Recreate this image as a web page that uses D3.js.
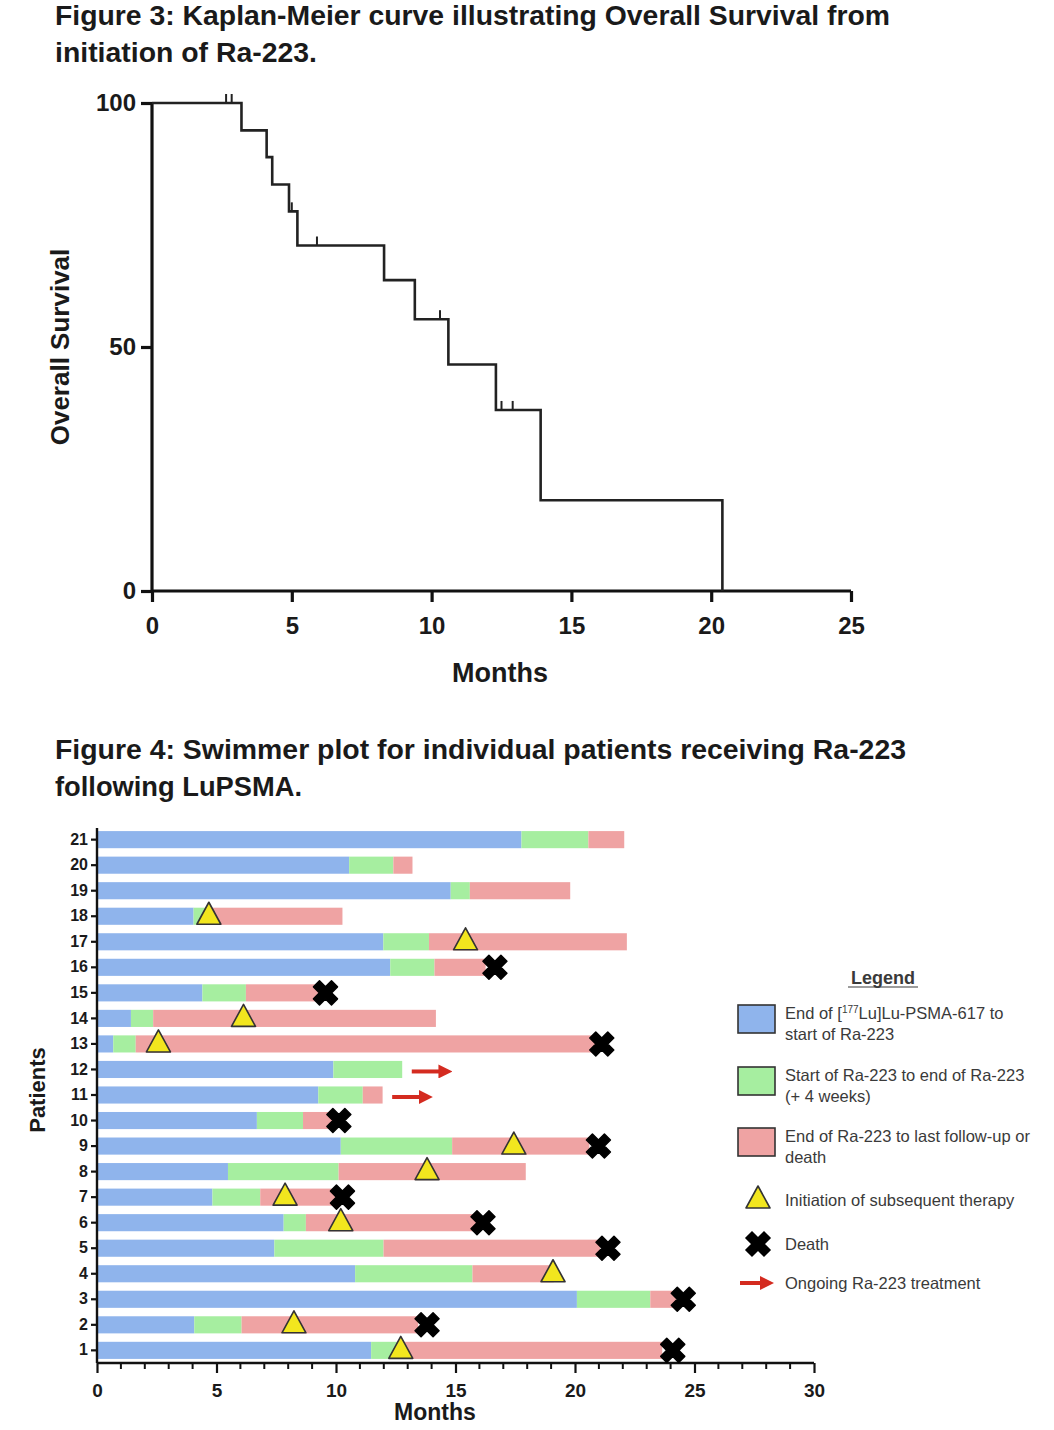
<!DOCTYPE html>
<html>
<head>
<meta charset="utf-8">
<script src="https://cdn.jsdelivr.net/npm/d3@7"></script>
<style>
  body { margin: 0; background: #fff; }
  text { font-family: "Liberation Sans", Arial, sans-serif; }
</style>
</head>
<body>
<svg id="chart" width="1054" height="1430"></svg>
<script>
// Figure 3 - Kaplan-Meier data (months, % surviving)
const kmTimes = [0, 3.2, 4.1, 4.3, 4.9, 5.2, 8.3, 9.4, 10.6, 12.3, 13.9, 20.4];
const kmSurv  = [100, 94.4, 88.9, 83.3, 77.8, 70.8, 63.7, 55.7, 46.4, 37.1, 18.6, 0];
const censorTimes = [2.65, 2.85, 5.0, 5.9, 10.3, 12.5, 12.9];
const kmXTicks = [0, 5, 10, 15, 20, 25];
const kmYTicks = [0, 50, 100];

// Figure 4 - swimmer plot, patient 1..21 (months)
const patients  = d3.range(1, 22);
const blueEnd   = [11.47, 4.07, 20.08, 10.8, 7.42, 7.81, 4.83, 5.48, 10.2, 6.69, 9.26, 9.89, 0.68, 1.42, 4.41, 12.27, 11.98, 4.04, 14.8, 10.55, 17.76];
const greenEnd  = [12.55, 6.05, 23.15, 15.71, 11.99, 8.74, 6.83, 10.11, 14.86, 8.62, 11.12, 12.77, 1.62, 2.35, 6.23, 14.12, 13.89, 4.6, 15.6, 12.4, 20.56];
const pinkEnd   = [23.65, 13.44, 24.24, 19.11, 21.05, 15.9, 10.0, 17.94, 20.6, 9.86, 11.95, 12.77, 20.9, 14.18, 9.33, 16.26, 22.17, 10.27, 19.8, 13.2, 22.06];
const nextTx    = [12.71, 8.24, null, 19.08, null, 10.2, 7.87, 13.81, 17.44, null, null, null, 2.57, 6.13, null, null, 15.42, 4.68, null, null, null];
const deathAt   = [24.09, 13.81, 24.53, null, 21.38, 16.15, 10.27, null, 20.98, 10.12, null, null, 21.12, null, 9.56, 16.65, null, null, null, null, null];
const ongoing   = [11, 12];
const swXTicks  = [0, 5, 10, 15, 20, 25, 30];

const colBlue = "#8fb4ec", colGreen = "#a6eea0", colPink = "#efa3a3";
const colYellow = "#f2e61e", colRed = "#d42b20";

const svg = d3.select("#chart");

// ---------- titles
function title(lines, x, y0, widths) {
  lines.forEach(function (t, i) {
    svg.append("text")
      .attr("x", x).attr("y", y0 + i * 37)
      .attr("textLength", widths[i]).attr("lengthAdjust", "spacingAndGlyphs")
      .style("font-family", "'Liberation Sans Narrow', 'Liberation Sans', Arial, sans-serif")
      .style("font-weight", "bold").style("font-size", "27px").style("fill", "#1a1a1a")
      .text(t);
  });
}
title(["Figure 3: Kaplan-Meier curve illustrating Overall Survival from", "initiation of Ra-223."], 55, 25, [835, 262]);
title(["Figure 4: Swimmer plot for individual patients receiving Ra-223", "following LuPSMA."], 55, 759, [851, 247]);

// ---------- Figure 3
const kx = d3.scaleLinear().domain([0, 25]).range([152, 851]);
const ky = d3.scaleLinear().domain([0, 100]).range([591, 103]);

const kmAxisX = svg.append("g")
  .attr("transform", "translate(0," + ky(0) + ")")
  .call(d3.axisBottom(kx).tickValues(kmXTicks).tickSize(11).tickPadding(15));
const kmAxisY = svg.append("g")
  .attr("transform", "translate(" + kx(0) + ",0)")
  .call(d3.axisLeft(ky).tickValues(kmYTicks).tickSize(11).tickPadding(5));
[kmAxisX, kmAxisY].forEach(function (a) {
  a.select(".domain").attr("stroke", "#111").attr("stroke-width", 3.2);
  a.selectAll(".tick line").attr("stroke", "#111").attr("stroke-width", 3.2);
  a.selectAll(".tick text").style("font-size", "24px").style("font-weight", "bold").attr("fill", "#1a1a1a");
});
kmAxisX.select(".domain").attr("d", "M" + kx(0) + ",0H" + kx(25));
kmAxisY.select(".domain").attr("d", "M0," + ky(100) + "V" + ky(0));

const kmData = kmTimes.map(function (t, i) { return [t, kmSurv[i]]; });
svg.append("path")
  .datum(kmData)
  .attr("fill", "none").attr("stroke", "#222").attr("stroke-width", 2.6)
  .attr("d", d3.line().x(function (d) { return kx(d[0]); }).y(function (d) { return ky(d[1]); }).curve(d3.curveStepAfter));

function survAt(t) {
  var s = 100;
  for (var i = 0; i < kmTimes.length; i++) { if (kmTimes[i] <= t) s = kmSurv[i]; }
  return s;
}
svg.append("g").selectAll("line")
  .data(censorTimes).enter().append("line")
  .attr("x1", function (d) { return kx(d); }).attr("x2", function (d) { return kx(d); })
  .attr("y1", function (d) { return ky(survAt(d)); })
  .attr("y2", function (d) { return ky(survAt(d)) - 9; })
  .attr("stroke", "#222").attr("stroke-width", 2);

svg.append("text")
  .attr("x", 500).attr("y", 682).attr("text-anchor", "middle")
  .style("font-size", "27px").style("font-weight", "bold").style("fill", "#1a1a1a")
  .text("Months");
svg.append("text")
  .attr("transform", "translate(69,347) rotate(-90)").attr("text-anchor", "middle")
  .style("font-size", "26px").style("font-weight", "bold").style("fill", "#1a1a1a")
  .text("Overall Survival");

// ---------- Figure 4
const sx = d3.scaleLinear().domain([0, 30]).range([97, 814]);
const sy = d3.scaleBand().domain(patients.slice().reverse()).range([827, 1363]).paddingInner(0.33).paddingOuter(0.16);
const bh = sy.bandwidth();

const rows = patients.map(function (p, i) {
  return { p: p, b: blueEnd[i], g: greenEnd[i], k: pinkEnd[i], tri: nextTx[i], dead: deathAt[i] };
});

const barG = svg.append("g");
rows.forEach(function (r) {
  var segs = [[0, r.b, colBlue], [r.b, r.g, colGreen], [r.g, r.k, colPink]];
  segs.forEach(function (s) {
    if (s[1] > s[0]) {
      barG.append("rect")
        .attr("x", sx(s[0])).attr("y", sy(r.p))
        .attr("width", sx(s[1]) - sx(s[0])).attr("height", bh)
        .attr("fill", s[2]);
    }
  });
});

// axes
const swAxisX = svg.append("g")
  .attr("transform", "translate(0,1363)")
  .call(d3.axisBottom(sx).tickValues(swXTicks).tickSize(10).tickPadding(11));
svg.append("g")
  .attr("transform", "translate(0,1363)")
  .selectAll("line").data(d3.range(0, 31).filter(function (d) { return d % 5 !== 0; }))
  .enter().append("line")
  .attr("x1", function (d) { return sx(d); }).attr("x2", function (d) { return sx(d); })
  .attr("y1", 0).attr("y2", 6).attr("stroke", "#111").attr("stroke-width", 2);
const swAxisY = svg.append("g")
  .attr("transform", "translate(" + sx(0) + ",0)")
  .call(d3.axisLeft(sy).tickSize(6).tickPadding(3));
[swAxisX, swAxisY].forEach(function (a) {
  a.select(".domain").attr("stroke", "#111").attr("stroke-width", 2.4);
  a.selectAll(".tick line").attr("stroke", "#111").attr("stroke-width", 2.2);
});
swAxisX.select(".domain").attr("d", "M" + sx(0) + ",0H" + sx(30));
swAxisY.select(".domain").attr("d", "M0,828V1363");
swAxisX.selectAll(".tick text").style("font-size", "19px").style("font-weight", "bold").attr("fill", "#1a1a1a");
swAxisY.selectAll(".tick text").style("font-size", "16px").style("font-weight", "bold").attr("fill", "#1a1a1a");

svg.append("text")
  .attr("x", 435).attr("y", 1420).attr("text-anchor", "middle")
  .style("font-size", "23px").style("font-weight", "bold").style("fill", "#1a1a1a")
  .text("Months");
svg.append("text")
  .attr("transform", "translate(45,1090) rotate(-90)").attr("text-anchor", "middle")
  .style("font-size", "22px").style("font-weight", "bold").style("fill", "#1a1a1a")
  .text("Patients");

// markers
const triPath = "M0,-14L12,8L-12,8Z";
svg.append("g").selectAll("path")
  .data(rows.filter(function (r) { return r.tri !== null; })).enter().append("path")
  .attr("d", triPath)
  .attr("transform", function (r) { return "translate(" + sx(r.tri) + "," + (sy(r.p) + bh / 2) + ")"; })
  .attr("fill", colYellow).attr("stroke", "#333").attr("stroke-width", 1.6).attr("stroke-linejoin", "round");

const cross = d3.symbol(d3.symbolCross, 360);
svg.append("g").selectAll("path")
  .data(rows.filter(function (r) { return r.dead !== null; })).enter().append("path")
  .attr("d", cross)
  .attr("transform", function (r) { return "translate(" + sx(r.dead) + "," + (sy(r.p) + bh / 2) + ") rotate(45)"; })
  .attr("fill", "#000").attr("stroke", "#000").attr("stroke-width", 1.5).attr("stroke-linejoin", "round");

svg.append("defs").append("marker")
  .attr("id", "head").attr("markerUnits", "userSpaceOnUse")
  .attr("markerWidth", 14).attr("markerHeight", 14).attr("refX", 2).attr("refY", 7)
  .attr("orient", "auto")
  .append("path").attr("d", "M0,0L14,7L0,14Z").attr("fill", colRed);

svg.append("g").selectAll("line")
  .data(rows.filter(function (r) { return ongoing.indexOf(r.p) >= 0; })).enter().append("line")
  .attr("x1", function (r) { return sx(r.k + 0.4); })
  .attr("x2", function (r) { return sx(r.k + 1.6); })
  .attr("y1", function (r) { return sy(r.p) + bh / 2 + 2; })
  .attr("y2", function (r) { return sy(r.p) + bh / 2 + 2; })
  .attr("stroke", colRed).attr("stroke-width", 4).attr("marker-end", "url(#head)");

// ---------- legend
const lg = svg.append("g").style("fill", "#3a3a3a");
lg.append("text").attr("x", 883).attr("y", 984).attr("text-anchor", "middle")
  .style("font-size", "18px").style("font-weight", "bold").text("Legend");
lg.append("line").attr("x1", 848).attr("x2", 918).attr("y1", 987).attr("y2", 987)
  .attr("stroke", "#3a3a3a").attr("stroke-width", 1.2);

const legBoxes = [
  { y: 1005, c: colBlue, l1: null, l2: "start of Ra-223" },
  { y: 1067, c: colGreen, l1: "Start of Ra-223 to end of Ra-223", l2: "(+ 4 weeks)" },
  { y: 1128, c: colPink, l1: "End of Ra-223 to last follow-up or", l2: "death" }
];
legBoxes.forEach(function (b) {
  lg.append("rect").attr("x", 738).attr("y", b.y).attr("width", 37).attr("height", 28)
    .attr("fill", b.c).attr("stroke", "#333").attr("stroke-width", 1.6);
  var t1 = lg.append("text").attr("x", 785).attr("y", b.y + 14).style("font-size", "16.5px");
  if (b.l1) { t1.text(b.l1); }
  else {
    t1.append("tspan").text("End of [");
    t1.append("tspan").attr("dy", -6).style("font-size", "10px").text("177");
    t1.append("tspan").attr("dy", 6).text("Lu]Lu-PSMA-617 to");
  }
  lg.append("text").attr("x", 785).attr("y", b.y + 35).style("font-size", "16.5px").text(b.l2);
});

lg.append("path").attr("d", triPath).attr("transform", "translate(758,1200)")
  .attr("fill", colYellow).attr("stroke", "#333").attr("stroke-width", 1.6).attr("stroke-linejoin", "round");
lg.append("text").attr("x", 785).attr("y", 1206).style("font-size", "16.5px").text("Initiation of subsequent therapy");

lg.append("path").attr("d", cross).attr("transform", "translate(758,1244) rotate(45)")
  .attr("fill", "#000").attr("stroke", "#000").attr("stroke-width", 1.5);
lg.append("text").attr("x", 785).attr("y", 1250).style("font-size", "16.5px").text("Death");

lg.append("line").attr("x1", 740).attr("x2", 762).attr("y1", 1283).attr("y2", 1283)
  .attr("stroke", colRed).attr("stroke-width", 4).attr("marker-end", "url(#head)");
lg.append("text").attr("x", 785).attr("y", 1289).style("font-size", "16.5px").text("Ongoing Ra-223 treatment");
</script>
</body>
</html>
